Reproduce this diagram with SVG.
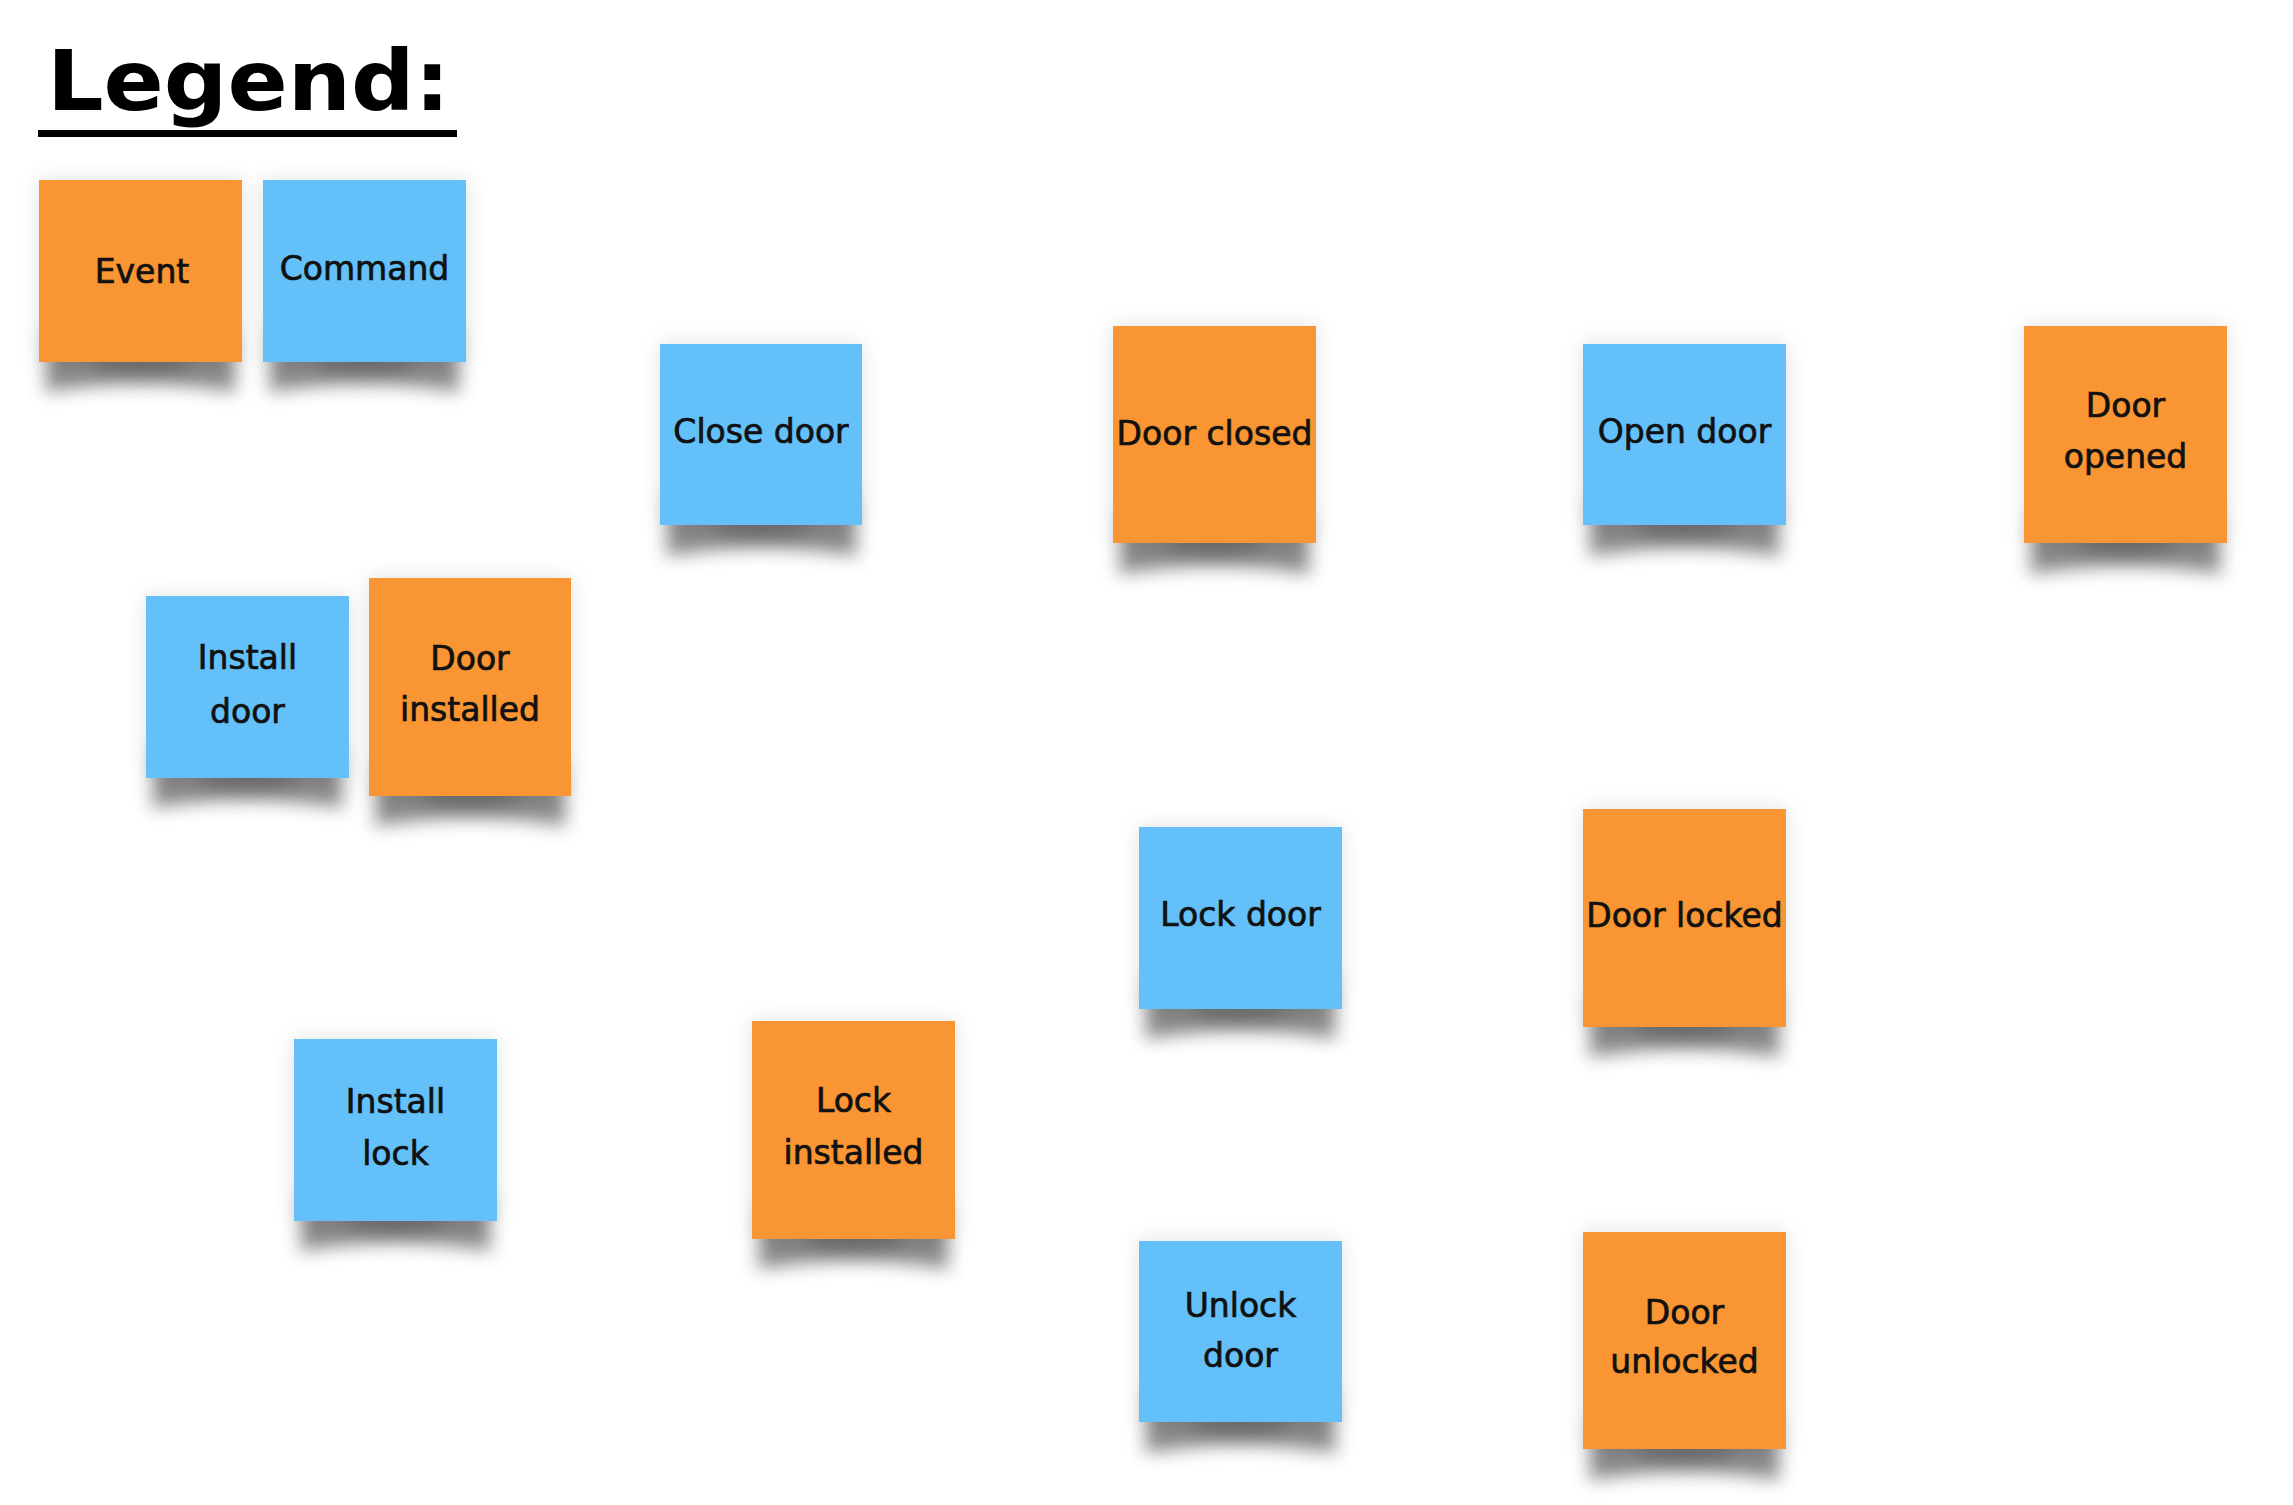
<svg xmlns="http://www.w3.org/2000/svg" xmlns:xlink="http://www.w3.org/1999/xlink" width="2293" height="1505" viewBox="0 0 2293 1505">
<style>
  .lbl { font-family: "DejaVu Sans", "Liberation Sans", sans-serif; font-size: 33px; fill: #111; stroke: #111; stroke-width: 0.7; text-anchor: middle; }
  .event { fill: #F99533; }
  .command { fill: #63C0F8; }
  .card { filter: url(#halo); }
  .title { font-family: "DejaVu Sans", "Liberation Sans", sans-serif; font-weight: bold; font-size: 84px; fill: #000; }
</style>
<defs>
  <filter id="blur" x="-30%" y="-80%" width="160%" height="260%">
    <feGaussianBlur stdDeviation="9"/>
  </filter>
  <filter id="halo" x="-20%" y="-20%" width="140%" height="140%">
    <feDropShadow dx="0" dy="0" stdDeviation="10" flood-color="#000" flood-opacity="0.12"/>
  </filter>
  <g id="shS">
    <path d="M10,150 L193,150 L197,212 Q101.5,196 6,212 Z" fill="#555" opacity="0.7" filter="url(#blur)"/>
    <ellipse cx="101.5" cy="184" rx="50" ry="9" fill="#444" opacity="0.45" filter="url(#blur)"/>
  </g>
  <g id="shT">
    <path d="M10,186 L193,186 L197,248 Q101.5,232 6,248 Z" fill="#555" opacity="0.7" filter="url(#blur)"/>
    <ellipse cx="101.5" cy="220" rx="50" ry="9" fill="#444" opacity="0.45" filter="url(#blur)"/>
  </g>
</defs>
<rect width="2293" height="1505" fill="#fff"/>

<g id="legend-title">
  <text class="title" x="47" y="110" textLength="403" lengthAdjust="spacingAndGlyphs">Legend:</text>
  <rect x="38" y="130" width="419" height="7" fill="#000"/>
</g>

<g id="connectors"></g>

<g id="legend-event" transform="translate(39,180)">
  <use xlink:href="#shS"/>
  <rect class="card event" width="203" height="182"/>
  <text class="lbl" x="103" y="103">Event</text>
</g>
<g id="legend-command" transform="translate(263,180)">
  <use xlink:href="#shS"/>
  <rect class="card command" width="203" height="182"/>
  <text class="lbl" x="101.5" y="100">Command</text>
</g>

<g id="close-door" transform="translate(660,344)">
  <use xlink:href="#shS"/>
  <rect class="card command" width="202" height="181"/>
  <text class="lbl" x="101" y="99">Close door</text>
</g>
<g id="door-closed" transform="translate(1113,326)">
  <use xlink:href="#shT"/>
  <rect class="card event" width="203" height="217"/>
  <text class="lbl" x="101.5" y="119">Door closed</text>
</g>
<g id="open-door" transform="translate(1583,344)">
  <use xlink:href="#shS"/>
  <rect class="card command" width="203" height="181"/>
  <text class="lbl" x="101.5" y="99">Open door</text>
</g>
<g id="door-opened" transform="translate(2024,326)">
  <use xlink:href="#shT"/>
  <rect class="card event" width="203" height="217"/>
  <text class="lbl" x="101.5" y="91">Door</text>
  <text class="lbl" x="101.5" y="142">opened</text>
</g>

<g id="install-door" transform="translate(146,596)">
  <use xlink:href="#shS"/>
  <rect class="card command" width="203" height="182"/>
  <text class="lbl" x="101.5" y="73">Install</text>
  <text class="lbl" x="101.5" y="127">door</text>
</g>
<g id="door-installed" transform="translate(369,578)">
  <use xlink:href="#shT"/>
  <rect class="card event" width="202" height="218"/>
  <text class="lbl" x="101" y="92">Door</text>
  <text class="lbl" x="101" y="143">installed</text>
</g>

<g id="lock-door" transform="translate(1139,827)">
  <use xlink:href="#shS"/>
  <rect class="card command" width="203" height="182"/>
  <text class="lbl" x="101.5" y="99">Lock door</text>
</g>
<g id="door-locked" transform="translate(1583,809)">
  <use xlink:href="#shT"/>
  <rect class="card event" width="203" height="218"/>
  <text class="lbl" x="101.5" y="118">Door locked</text>
</g>

<g id="install-lock" transform="translate(294,1039)">
  <use xlink:href="#shS"/>
  <rect class="card command" width="203" height="182"/>
  <text class="lbl" x="101.5" y="74">Install</text>
  <text class="lbl" x="101.5" y="126">lock</text>
</g>
<g id="lock-installed" transform="translate(752,1021)">
  <use xlink:href="#shT"/>
  <rect class="card event" width="203" height="218"/>
  <text class="lbl" x="101.5" y="91">Lock</text>
  <text class="lbl" x="101.5" y="143">installed</text>
</g>

<g id="unlock-door" transform="translate(1139,1241)">
  <use xlink:href="#shS"/>
  <rect class="card command" width="203" height="181"/>
  <text class="lbl" x="101.5" y="76">Unlock</text>
  <text class="lbl" x="101.5" y="126">door</text>
</g>
<g id="door-unlocked" transform="translate(1583,1232)">
  <use xlink:href="#shT"/>
  <rect class="card event" width="203" height="217"/>
  <text class="lbl" x="101.5" y="92">Door</text>
  <text class="lbl" x="101.5" y="141">unlocked</text>
</g>
</svg>
